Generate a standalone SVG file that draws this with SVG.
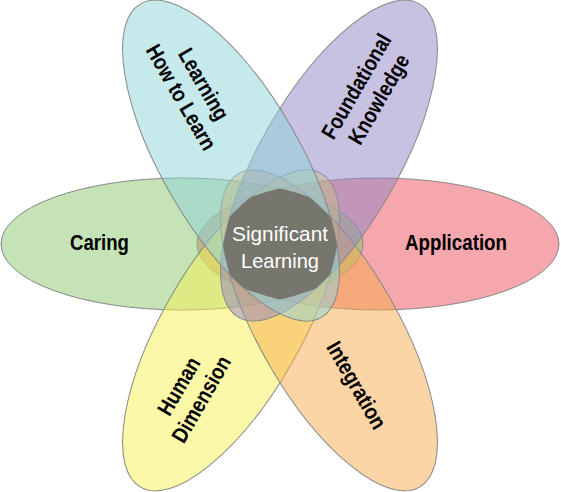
<svg xmlns="http://www.w3.org/2000/svg" width="561" height="492" viewBox="0 0 561 492">
<style>
.petal{stroke:#888;stroke-width:1;fill-opacity:0.5}
.lbl{font-family:"Liberation Sans",Arial,sans-serif;font-weight:bold;font-size:22px;fill:#000;text-anchor:middle}
.ctr{font-family:"Liberation Sans",Arial,sans-serif;font-size:21px;fill:#fff;text-anchor:middle}
</style>
<defs>
<clipPath id="k1"><ellipse cx="0" cy="0" rx="181" ry="66" transform="translate(182,244)"/></clipPath>
<clipPath id="k2"><ellipse cx="0" cy="0" rx="181" ry="66" transform="translate(378,244)"/></clipPath>
<clipPath id="k3"><ellipse cx="0" cy="0" rx="181" ry="69" transform="translate(231,160.6) rotate(60)"/></clipPath>
<clipPath id="k4"><ellipse cx="0" cy="0" rx="181" ry="69" transform="translate(329,160.6) rotate(-60)"/></clipPath>
<clipPath id="k5"><ellipse cx="0" cy="0" rx="181" ry="69" transform="translate(231,330.4) rotate(-60)"/></clipPath>
<clipPath id="k6"><ellipse cx="0" cy="0" rx="181" ry="69" transform="translate(329,330.4) rotate(60)"/></clipPath>
</defs>
<rect width="561" height="492" fill="#fff"/>
<g id="application"><ellipse class="petal" cx="0" cy="0" rx="181" ry="66" fill="#eb4f5b" transform="translate(378,244)"/></g>
<g id="caring"><ellipse class="petal" cx="0" cy="0" rx="181" ry="66" fill="#8bc76d" transform="translate(182,244)"/></g>
<g id="human-dimension"><ellipse class="petal" cx="0" cy="0" rx="181" ry="69" fill="#f7f151" transform="translate(231,330.4) rotate(-60)"/></g>
<g id="integration"><ellipse class="petal" cx="0" cy="0" rx="181" ry="69" fill="#f7ab4b" transform="translate(329,330.4) rotate(60)"/></g>
<g id="foundational-knowledge"><ellipse class="petal" cx="0" cy="0" rx="181" ry="69" fill="#8f85c3" transform="translate(329,160.6) rotate(-60)"/></g>
<g id="learning-how-to-learn"><ellipse class="petal" cx="0" cy="0" rx="181" ry="69" fill="#8dd3d9" transform="translate(231,160.6) rotate(60)"/></g>
<g id="significant-learning">
<g clip-path="url(#k1)"><g clip-path="url(#k2)"><g clip-path="url(#k3)"><g clip-path="url(#k4)"><g clip-path="url(#k5)"><g clip-path="url(#k6)">
<rect x="200" y="160" width="160" height="170" fill="#77766d"/>
</g></g></g></g></g></g>
<text class="ctr" x="280" y="241" textLength="96" lengthAdjust="spacingAndGlyphs">Significant</text>
<text class="ctr" x="280" y="268" textLength="78" lengthAdjust="spacingAndGlyphs">Learning</text>
</g>
<g id="labels">
<text class="lbl" x="99.5" y="250" textLength="59" lengthAdjust="spacingAndGlyphs">Caring</text>
<text class="lbl" x="456" y="250" textLength="102" lengthAdjust="spacingAndGlyphs">Application</text>
<g transform="translate(192,91) rotate(60)"><text class="lbl" y="-6" textLength="79" lengthAdjust="spacingAndGlyphs">Learning</text><text class="lbl" y="20" textLength="118" lengthAdjust="spacingAndGlyphs">How to Learn</text></g>
<g transform="translate(368,93) rotate(-60)"><text class="lbl" y="-6" textLength="117" lengthAdjust="spacingAndGlyphs">Foundational</text><text class="lbl" y="20" textLength="100" lengthAdjust="spacingAndGlyphs">Knowledge</text></g>
<g transform="translate(190.5,393) rotate(-60)"><text class="lbl" y="-6" textLength="63" lengthAdjust="spacingAndGlyphs">Human</text><text class="lbl" y="20" textLength="96" lengthAdjust="spacingAndGlyphs">Dimension</text></g>
<g transform="translate(357,385) rotate(60)"><text class="lbl" y="8" textLength="97" lengthAdjust="spacingAndGlyphs">Integration</text></g>
</g>
</svg>
